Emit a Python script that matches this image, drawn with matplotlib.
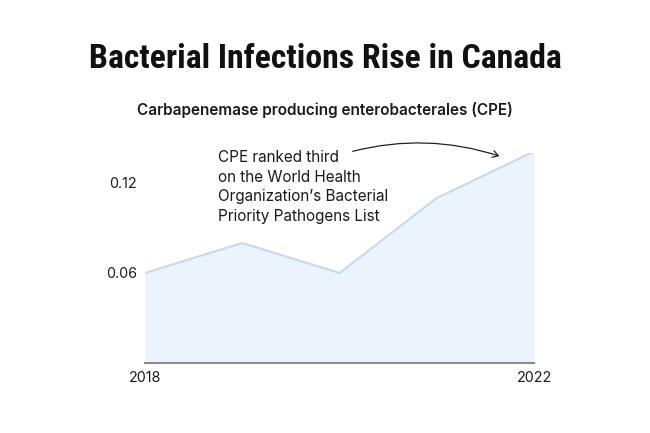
import matplotlib
matplotlib.use("Agg")
import matplotlib.pyplot as plt
from matplotlib.patches import FancyArrowPatch
from matplotlib import font_manager

years = [2018, 2019, 2020, 2021, 2022]
values = [0.06, 0.08, 0.06, 0.11, 0.141]
ytick_vals = [0.06, 0.12]
ytick_labels = ["0.06", "0.12"]
xtick_vals = [2018, 2022]
xtick_labels = ["2018", "2022"]

title = "Bacterial Infections Rise in Canada"
subtitle = "Carbapenemase producing enterobacterales (CPE)"
note = "CPE ranked third\non the World Health\nOrganization\u2019s Bacterial\nPriority Pathogens List"

available = {f.name for f in font_manager.fontManager.ttflist}
title_family = "DejaVu Sans"
for cand in ["Liberation Sans Narrow", "Roboto Condensed", "DejaVu Sans Condensed", "Roboto"]:
    if cand in available:
        title_family = cand
        break

W, H = 650, 433
fig = plt.figure(figsize=(W / 100, H / 100), dpi=100)
fig.patch.set_facecolor("white")

left, right = 145, 534
bottom, top = 363, 153
ax = fig.add_axes([left / W, 1 - bottom / H, (right - left) / W, (bottom - top) / H])
ax.set_xlim(2018, 2022)
ax.set_ylim(0, 0.14)

ax.fill_between(years, values, 0, color="#EBF3FC", linewidth=0)
ax.plot(years, values, color="#C2DAF3", linewidth=1.5)

for s in ["top", "right", "left"]:
    ax.spines[s].set_visible(False)
ax.spines["bottom"].set_color("#8A8A8A")
ax.spines["bottom"].set_linewidth(1.5)

ax.set_yticks(ytick_vals)
ax.set_yticklabels(ytick_labels)
ax.set_xticks(xtick_vals)
ax.set_xticklabels(xtick_labels)
ax.tick_params(axis="both", length=0, labelsize=10.3, labelcolor="#1a1a1a")
ax.tick_params(axis="y", pad=5.8)
ax.tick_params(axis="x", pad=6)
for lab in ax.get_xticklabels() + ax.get_yticklabels():
    lab.set_family("Inter")

t = fig.text(0.5, 1 - 59 / H, title, ha="center", va="center",
             fontsize=25, fontweight="bold", family=title_family, color="#111111")
fig.canvas.draw()
wpx = t.get_window_extent().width
target = 473
if wpx > target:
    t.set_fontsize(max(20, 25 * target / wpx))

fig.text(0.5, 1 - 110 / H, subtitle, ha="center", va="center",
         fontsize=11, fontweight="semibold", family="Inter", color="#1a1a1a")

fig.text(218 / W, 1 - 150 / H, note, ha="left", va="top",
         fontsize=11, family="Inter", color="#1a1a1a", linespacing=1.38)

arrow = FancyArrowPatch((350 / W, 1 - 152 / H), (502 / W, 1 - 157 / H),
                        transform=fig.transFigure, connectionstyle="arc3,rad=-0.15",
                        arrowstyle="->,head_length=4,head_width=2.5",
                        color="#222222", linewidth=0.9)
fig.patches.append(arrow)

fig.savefig("out.png", dpi=100, facecolor="white")
